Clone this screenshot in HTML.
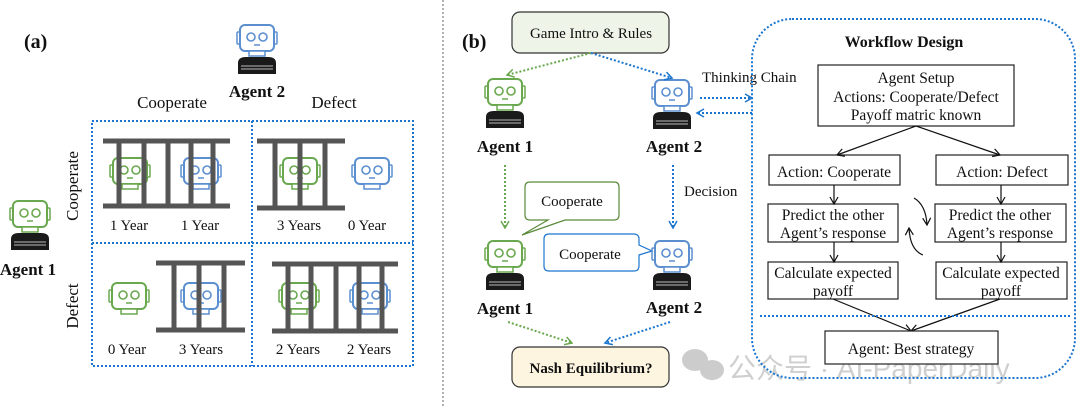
<!DOCTYPE html>
<html><head><meta charset="utf-8"><style>
html,body{margin:0;padding:0;background:#fff}
svg{display:block}
text{font-family:"Liberation Serif",serif;fill:#111}
</style></head><body>
<svg width="1080" height="408" viewBox="0 0 1080 408" xmlns="http://www.w3.org/2000/svg">
<defs>
<g id="headG">
<rect x="3" y="1" width="34" height="26" rx="5" fill="#fff" stroke="#6aa84f" stroke-width="2"/>
<rect x="0" y="8" width="3" height="12" rx="1" fill="none" stroke="#6aa84f" stroke-width="1.5"/>
<rect x="37" y="8" width="3" height="12" rx="1" fill="none" stroke="#6aa84f" stroke-width="1.5"/>
<circle cx="14" cy="13" r="4" fill="none" stroke="#6aa84f" stroke-width="1.6"/>
<circle cx="26" cy="13" r="4" fill="none" stroke="#6aa84f" stroke-width="1.6"/>
<line x1="17" y1="21" x2="23" y2="21" stroke="#6aa84f" stroke-width="1.5"/>
<rect x="12" y="27" width="16" height="5" fill="#fff" stroke="#6aa84f" stroke-width="1.5"/>
</g>
<g id="headB">
<rect x="3" y="1" width="34" height="26" rx="5" fill="#fff" stroke="#5b8fd0" stroke-width="2"/>
<rect x="0" y="8" width="3" height="12" rx="1" fill="none" stroke="#5b8fd0" stroke-width="1.5"/>
<rect x="37" y="8" width="3" height="12" rx="1" fill="none" stroke="#5b8fd0" stroke-width="1.5"/>
<circle cx="14" cy="13" r="4" fill="none" stroke="#5b8fd0" stroke-width="1.6"/>
<circle cx="26" cy="13" r="4" fill="none" stroke="#5b8fd0" stroke-width="1.6"/>
<line x1="17" y1="21" x2="23" y2="21" stroke="#5b8fd0" stroke-width="1.5"/>
<rect x="12" y="27" width="16" height="5" fill="#fff" stroke="#5b8fd0" stroke-width="1.5"/>
</g>
<g id="body">
<path d="M1 50 L1 39 Q1 33 9 33 L31 33 Q39 33 39 39 L39 50 Z" fill="#1a1a1a"/>
<line x1="4" y1="42" x2="36" y2="42" stroke="#bbb" stroke-width="1"/>
<line x1="4" y1="45" x2="36" y2="45" stroke="#bbb" stroke-width="1"/>
</g>
<marker id="aG" markerWidth="10" markerHeight="10" refX="8" refY="5" orient="auto" markerUnits="userSpaceOnUse"><path d="M1 1 L8 5 L1 9" fill="none" stroke="#6aa84f" stroke-width="1.5"/></marker>
<marker id="aB" markerWidth="10" markerHeight="10" refX="8" refY="5" orient="auto" markerUnits="userSpaceOnUse"><path d="M1 1 L8 5 L1 9" fill="none" stroke="#1a75cf" stroke-width="1.5"/></marker>
<marker id="aK" markerWidth="10" markerHeight="10" refX="8" refY="5" orient="auto" markerUnits="userSpaceOnUse"><path d="M1 1 L8 5 L1 9" fill="none" stroke="#111" stroke-width="1.2"/></marker>
</defs>

<text x="24" y="48" font-size="20" font-weight="bold">(a)</text>
<g transform="translate(237,24)"><use href="#headB"/><use href="#body"/></g>
<text x="257" y="97" font-size="17" font-weight="bold" text-anchor="middle">Agent 2</text>
<g transform="translate(10,200)"><use href="#headG"/><use href="#body"/></g>
<text x="28" y="275" font-size="17" font-weight="bold" text-anchor="middle">Agent 1</text>
<text x="172" y="108" font-size="17" text-anchor="middle">Cooperate</text>
<text x="334" y="108" font-size="17" text-anchor="middle">Defect</text>
<text transform="translate(78,186) rotate(-90)" font-size="17" text-anchor="middle">Cooperate</text>
<text transform="translate(78,306) rotate(-90)" font-size="17" text-anchor="middle">Defect</text>
<g fill="none" stroke="#1a75cf" stroke-width="2" stroke-dasharray="2,2">
<rect x="92" y="121" width="321" height="245"/>
<line x1="252" y1="121" x2="252" y2="366"/>
<line x1="92" y1="243" x2="413" y2="243"/>
</g>
<use href="#headG" transform="translate(110,157)"/>
<use href="#headB" transform="translate(181,157)"/>
<g stroke="#555" stroke-width="5">
<line x1="103" y1="141" x2="230" y2="141"/><line x1="103" y1="206" x2="230" y2="206"/>
<line x1="119" y1="141" x2="119" y2="206"/><line x1="144" y1="141" x2="144" y2="206"/><line x1="168" y1="141" x2="168" y2="206"/><line x1="191" y1="141" x2="191" y2="206"/><line x1="213" y1="141" x2="213" y2="206"/>
</g>
<text x="129" y="230" font-size="15" text-anchor="middle">1 Year</text>
<text x="200" y="230" font-size="15" text-anchor="middle">1 Year</text>
<use href="#headG" transform="translate(280,157)"/>
<use href="#headB" transform="translate(352,157)"/>
<g stroke="#555" stroke-width="5">
<line x1="257" y1="141" x2="345" y2="141"/><line x1="257" y1="208" x2="345" y2="208"/>
<line x1="275" y1="141" x2="275" y2="208"/><line x1="300" y1="141" x2="300" y2="208"/><line x1="325" y1="141" x2="325" y2="208"/>
</g>
<text x="299" y="230" font-size="15" text-anchor="middle">3 Years</text>
<text x="367" y="230" font-size="15" text-anchor="middle">0 Year</text>
<use href="#headG" transform="translate(109,282)"/>
<use href="#headB" transform="translate(181,282)"/>
<g stroke="#555" stroke-width="5">
<line x1="156" y1="263" x2="245" y2="263"/><line x1="156" y1="330" x2="245" y2="330"/>
<line x1="174" y1="263" x2="174" y2="330"/><line x1="199" y1="263" x2="199" y2="330"/><line x1="224" y1="263" x2="224" y2="330"/>
</g>
<text x="127" y="354" font-size="15" text-anchor="middle">0 Year</text>
<text x="201" y="354" font-size="15" text-anchor="middle">3 Years</text>
<use href="#headG" transform="translate(279,282)"/>
<use href="#headB" transform="translate(350,282)"/>
<g stroke="#555" stroke-width="5">
<line x1="272" y1="264" x2="398" y2="264"/><line x1="272" y1="331" x2="398" y2="331"/>
<line x1="288" y1="264" x2="288" y2="331"/><line x1="311" y1="264" x2="311" y2="331"/><line x1="336" y1="264" x2="336" y2="331"/><line x1="359" y1="264" x2="359" y2="331"/><line x1="382" y1="264" x2="382" y2="331"/>
</g>
<text x="298" y="354" font-size="15" text-anchor="middle">2 Years</text>
<text x="369" y="354" font-size="15" text-anchor="middle">2 Years</text>

<line x1="443" y1="0" x2="443" y2="408" stroke="#999" stroke-width="1.5" stroke-dasharray="2,2"/>

<text x="462" y="48" font-size="20" font-weight="bold">(b)</text>
<rect x="512" y="12" width="157" height="41" rx="8" fill="#eef5e8" stroke="#333" stroke-width="1.2"/>
<text x="591" y="38" font-size="15" text-anchor="middle">Game Intro &amp; Rules</text>
<g transform="translate(485,78)"><use href="#headG"/><use href="#body"/></g>
<text x="505" y="152" font-size="17" font-weight="bold" text-anchor="middle">Agent 1</text>
<g transform="translate(652,79)"><use href="#headB"/><use href="#body"/></g>
<text x="674" y="152" font-size="17" font-weight="bold" text-anchor="middle">Agent 2</text>
<g fill="none" stroke-width="2" stroke-dasharray="2,2">
<line x1="591" y1="53" x2="507" y2="75" stroke="#6aa84f" marker-end="url(#aG)"/>
<line x1="591" y1="53" x2="672" y2="78" stroke="#1a75cf" marker-end="url(#aB)"/>
<line x1="700" y1="98" x2="752" y2="98" stroke="#1a75cf" marker-end="url(#aB)"/>
<line x1="752" y1="113" x2="697" y2="113" stroke="#1a75cf" marker-end="url(#aB)"/>
<line x1="505" y1="165" x2="505" y2="228" stroke="#6aa84f" marker-end="url(#aG)"/>
<line x1="673" y1="165" x2="673" y2="228" stroke="#1a75cf" marker-end="url(#aB)"/>
<line x1="508" y1="322" x2="572" y2="343" stroke="#6aa84f" marker-end="url(#aG)"/>
<line x1="670" y1="322" x2="605" y2="343" stroke="#1a75cf" marker-end="url(#aB)"/>
</g>
<text x="702" y="82" font-size="15">Thinking Chain</text>
<text x="684" y="196" font-size="15">Decision</text>
<path d="M530 182 L614 182 Q619 182 619 187 L619 215 Q619 220 614 220 L565 220 L522 235 L548 220 L530 220 Q525 220 525 215 L525 187 Q525 182 530 182 Z" fill="#fff" stroke="#5a8a3a" stroke-width="1.2"/>
<text x="572" y="206" font-size="15" text-anchor="middle">Cooperate</text>
<path d="M549 234 L634 234 Q639 234 639 239 L639 245 L652 251 L639 255 L639 266 Q639 271 634 271 L549 271 Q544 271 544 266 L544 239 Q544 234 549 234 Z" fill="#fff" stroke="#1a75cf" stroke-width="1.2"/>
<text x="590" y="259" font-size="15" text-anchor="middle">Cooperate</text>
<g transform="translate(485,240)"><use href="#headG"/><use href="#body"/></g>
<text x="505" y="314" font-size="17" font-weight="bold" text-anchor="middle">Agent 1</text>
<g transform="translate(652,240)"><use href="#headB"/><use href="#body"/></g>
<text x="674" y="313" font-size="17" font-weight="bold" text-anchor="middle">Agent 2</text>
<rect x="512" y="347" width="157" height="40" rx="8" fill="#fdf5e0" stroke="#333" stroke-width="1.2"/>
<text x="591" y="373" font-size="15" font-weight="bold" text-anchor="middle">Nash Equilibrium?</text>

<g fill="#bbb" opacity="0.75">
<ellipse cx="695" cy="360" rx="13" ry="11"/><ellipse cx="712" cy="370" rx="12" ry="10"/>
</g>
<text x="728" y="378" font-size="28" style="font-family:'Liberation Sans','Noto Sans CJK SC',sans-serif;fill:#bbb;opacity:0.7">公众号 · AI-PaperDaily</text>

<rect x="752" y="19" width="323" height="359" rx="40" fill="none" stroke="#1a75cf" stroke-width="2" stroke-dasharray="2,2"/>
<text x="904" y="47" font-size="16" font-weight="bold" text-anchor="middle">Workflow Design</text>
<g fill="#fff" stroke="#222" stroke-width="1.2">
<rect x="818" y="65" width="196" height="61"/>
<rect x="769" y="155" width="131" height="30"/>
<rect x="936" y="155" width="132" height="30"/>
<rect x="768" y="204" width="130" height="38"/>
<rect x="935" y="204" width="131" height="38"/>
<rect x="768" y="262" width="130" height="37"/>
<rect x="936" y="262" width="131" height="37"/>
</g>
<g font-size="15.5" text-anchor="middle">
<text x="916" y="83">Agent Setup</text>
<text x="916" y="102">Actions: Cooperate/Defect</text>
<text x="916" y="120">Payoff matric known</text>
<text x="834" y="177">Action: Cooperate</text>
<text x="1002" y="177">Action: Defect</text>
<text x="833" y="220">Predict the other</text>
<text x="833" y="238">Agent’s response</text>
<text x="1000" y="220">Predict the other</text>
<text x="1000" y="238">Agent’s response</text>
<text x="833" y="278">Calculate expected</text>
<text x="833" y="296">payoff</text>
<text x="1001" y="278">Calculate expected</text>
<text x="1001" y="296">payoff</text>
</g>
<g stroke="#111" stroke-width="1.2" fill="none">
<line x1="916" y1="126" x2="837" y2="155" marker-end="url(#aK)"/>
<line x1="916" y1="126" x2="1000" y2="155" marker-end="url(#aK)"/>
<line x1="834" y1="185" x2="834" y2="204" marker-end="url(#aK)"/>
<line x1="1001" y1="185" x2="1001" y2="204" marker-end="url(#aK)"/>
<line x1="834" y1="242" x2="834" y2="262" marker-end="url(#aK)"/>
<line x1="1001" y1="242" x2="1001" y2="262" marker-end="url(#aK)"/>
<line x1="833" y1="299" x2="911" y2="331" marker-end="url(#aK)"/>
<line x1="1000" y1="299" x2="911" y2="331" marker-end="url(#aK)"/>
<path d="M914 198 Q926 205 927 225" marker-end="url(#aK)"/>
<path d="M923 255 Q910 250 909 228" marker-end="url(#aK)"/>
</g>
<line x1="760" y1="316" x2="1072" y2="316" stroke="#1a75cf" stroke-width="2" stroke-dasharray="2,2"/>
<rect x="825" y="331" width="173" height="33" fill="#fff" stroke="#222" stroke-width="1.2"/>
<text x="911" y="354" font-size="15.5" text-anchor="middle">Agent: Best strategy</text>
</svg>
</body></html>
